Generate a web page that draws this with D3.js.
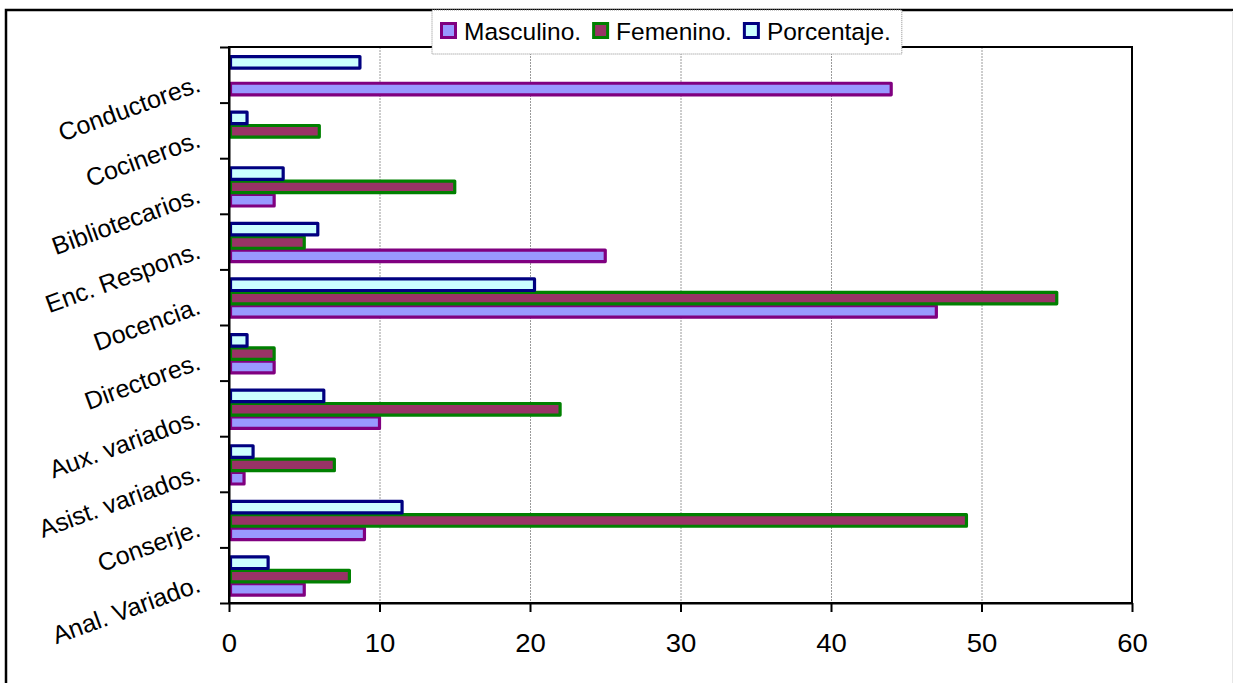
<!DOCTYPE html>
<html>
<head>
<meta charset="utf-8">
<script src="https://cdn.jsdelivr.net/npm/d3@7"></script>
<style>
  body { margin: 0; background: #fff; }
  svg { display: block; font-family: "Liberation Sans", Arial, sans-serif; }
</style>
</head>
<body>
<div id="chart"></div>
<script>
// categories listed top to bottom as in the chart
var categories = ["Conductores.", "Cocineros.", "Bibliotecarios.", "Enc. Respons.", "Docencia.",
                  "Directores.", "Aux. variados.", "Asist. variados.", "Conserje.", "Anal. Variado."];
var masculino  = [44, 0, 3, 25, 47, 3, 10, 1, 9, 5];
var femenino   = [0, 6, 15, 5, 55, 3, 22, 7, 49, 8];
var porcentaje = [8.7, 1.2, 3.6, 5.9, 20.3, 1.2, 6.3, 1.6, 11.5, 2.6];
var xTicks = [0, 10, 20, 30, 40, 50, 60];

var series = [
  {name: "Masculino.",  values: masculino,  fill: "#9999ff", stroke: "#800080"},
  {name: "Femenino.",   values: femenino,   fill: "#993366", stroke: "#008000"},
  {name: "Porcentaje.", values: porcentaje, fill: "#ccffff", stroke: "#000080"}
];

var width = 1233, height = 683,
    plot = {left: 229, right: 1132, top: 47, bottom: 603},
    fontSize = 25;

var svg = d3.select("#chart").append("svg")
    .attr("width", width)
    .attr("height", height);

// outer chart frame (only top and left show inside the picture)
svg.append("rect")
    .attr("x", 6).attr("y", 10)
    .attr("width", 1300).attr("height", 800)
    .attr("fill", "#fff")
    .attr("stroke", "#000")
    .attr("stroke-width", 2.5);
svg.append("line")
    .attr("x1", 1232.5).attr("x2", 1232.5)
    .attr("y1", 11).attr("y2", height)
    .attr("stroke", "#e6e6e6");

var x = d3.scaleLinear().domain([0, 60]).range([plot.left, plot.right]);
var y = d3.scaleBand().domain(categories).range([plot.top, plot.bottom]).padding(0);
// bars inside a group: Porcentaje on top, Masculino at bottom
var y1 = d3.scaleBand()
    .domain(["Porcentaje.", "Femenino.", "Masculino."])
    .range([y.bandwidth() * 0.145, y.bandwidth() * 0.865]);

// gridlines
svg.append("g")
  .selectAll("line")
  .data(xTicks.slice(1, -1))
  .enter().append("line")
    .attr("x1", function (d) { return x(d) + 0.5; })
    .attr("x2", function (d) { return x(d) + 0.5; })
    .attr("y1", plot.top)
    .attr("y2", plot.bottom)
    .attr("stroke", "#9a9a9a")
    .attr("stroke-dasharray", "2,1");

// bars
var groups = svg.append("g")
  .selectAll("g")
  .data(series)
  .enter().append("g")
    .attr("fill", function (s) { return s.fill; })
    .attr("stroke", function (s) { return s.stroke; });

groups.selectAll("rect")
  .data(function (s) {
    return s.values.map(function (v, i) { return {name: s.name, cat: categories[i], value: v}; });
  })
  .enter().append("rect")
    .attr("x", x(0) + 1.5)
    .attr("y", function (d) { return y(d.cat) + y1(d.name) + 1.5; })
    .attr("width", function (d) { return Math.max(0, x(d.value) - x(0) - 1.5); })
    .attr("height", y1.bandwidth() - 1.8)
    .attr("stroke-width", function (d) { return d.value > 0 ? 3.2 : 0; })
    .attr("stroke-linejoin", "round");

// plot frame
svg.append("rect")
    .attr("x", plot.left).attr("y", plot.top)
    .attr("width", plot.right - plot.left)
    .attr("height", plot.bottom - plot.top)
    .attr("fill", "none")
    .attr("stroke", "#000")
    .attr("stroke-width", 2);

// x axis
var xAxis = svg.append("g")
    .attr("transform", "translate(0," + plot.bottom + ")")
    .call(d3.axisBottom(x).tickValues(xTicks).tickSize(9).tickPadding(22).tickSizeOuter(0));
xAxis.select(".domain").attr("stroke-width", 2);
xAxis.selectAll(".tick line").attr("stroke-width", 2);
xAxis.selectAll("text")
    .attr("font-size", fontSize)
    .attr("font-family", "Liberation Sans, Arial, sans-serif")
    .attr("fill", "#000")
    .attr("transform", "scale(1.1,1)");

// y axis tick marks at category boundaries
var yTick = d3.scaleLinear().domain([0, categories.length]).range([plot.top, plot.bottom]);
var yAxis = svg.append("g")
    .attr("transform", "translate(" + plot.left + ",0)")
    .call(d3.axisLeft(yTick).ticks(categories.length).tickSize(9).tickFormat("").tickSizeOuter(0));
yAxis.select(".domain").attr("stroke-width", 2);
yAxis.selectAll(".tick line").attr("stroke-width", 2);

// rotated category labels
svg.append("g")
  .selectAll("text")
  .data(categories)
  .enter().append("text")
    .attr("text-anchor", "end")
    .attr("font-size", fontSize)
    .attr("transform", function (d) {
      return "translate(202," + (y(d) + y.bandwidth() / 2 + 16) + ") rotate(-20)";
    })
    .text(function (d) { return d; });

// legend
var legend = svg.append("g");
var legendBox = legend.append("rect")
    .attr("x", 432).attr("y", 10)
    .attr("height", 44)
    .attr("fill", "#fff")
    .attr("stroke", "#8c8c8c")
    .attr("stroke-dasharray", "1,1");

var cursor = 440;
series.forEach(function (s) {
  legend.append("rect")
      .attr("x", cursor + 1.5).attr("y", 23.5)
      .attr("width", 14).attr("height", 14)
      .attr("fill", s.fill)
      .attr("stroke", s.stroke)
      .attr("stroke-width", 3);
  var t = legend.append("text")
      .attr("x", cursor + 24).attr("y", 40)
      .attr("font-size", 24.5)
      .text(s.name);
  cursor += 24 + t.node().getComputedTextLength() + 11;
});
legendBox.attr("width", cursor - 432);
</script>
</body>
</html>
